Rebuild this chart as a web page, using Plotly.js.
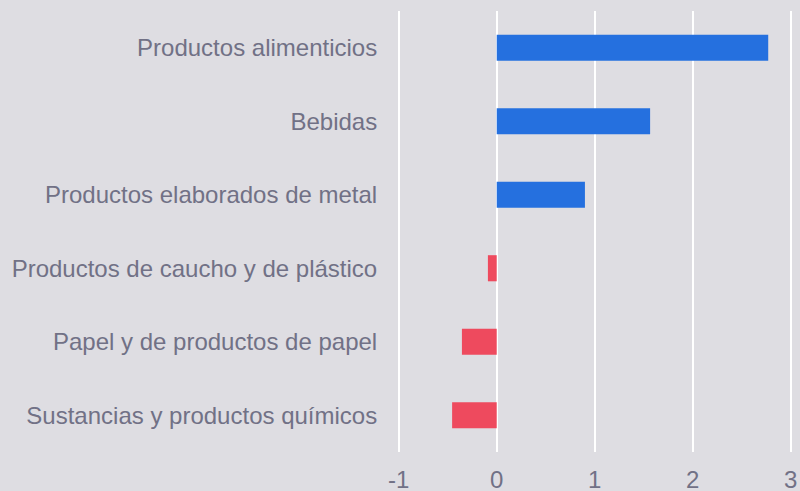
<!DOCTYPE html>
<html>
<head>
<meta charset="utf-8">
<script src="https://cdn.plot.ly/plotly-3.0.1.min.js"></script>
<style>html,body{margin:0;padding:0;background:#dedde2;}#chart{width:800px;height:491px;}</style>
</head>
<body>
<div id="chart"></div>
<script>
const categories = [
  "Sustancias y productos químicos",
  "Papel y de productos de papel",
  "Productos de caucho y de plástico",
  "Productos elaborados de metal",
  "Bebidas",
  "Productos alimenticios"
];
const values = [-0.455, -0.355, -0.09, 0.90, 1.565, 2.77];
const xTicks = [-1, 0, 1, 2, 3];

const colors = values.map(v => v < 0 ? "#ee4a5e" : "#2570df");

const trace = {
  type: "bar",
  orientation: "h",
  y: categories,
  x: values,
  marker: {color: colors, line: {width: 0}},
  hoverinfo: "none"
};

const layout = {
  width: 800,
  height: 491,
  paper_bgcolor: "#dedde2",
  plot_bgcolor: "#dedde2",
  margin: {l: 396, r: 6, t: 11, b: 39},
  bargap: 0.645,
  showlegend: false,
  font: {family: "Liberation Sans, Arial, sans-serif", size: 24, color: "#717186"},
  xaxis: {
    range: [-1.0276, 3.033],
    tickvals: xTicks,
    ticktext: xTicks.map(String),
    showgrid: true,
    gridcolor: "#ffffff",
    gridwidth: 2,
    zeroline: false,
    showline: false,
    ticks: "outside",
    ticklen: 6,
    tickcolor: "rgba(0,0,0,0)",
    tickfont: {size: 24, color: "#717186"},
    fixedrange: true
  },
  yaxis: {
    range: [-0.5, 5.5],
    showgrid: false,
    zeroline: false,
    showline: false,
    ticks: "outside",
    ticklen: 13,
    tickcolor: "rgba(0,0,0,0)",
    tickfont: {size: 24, color: "#717186"},
    fixedrange: true
  }
};

Plotly.newPlot("chart", [trace], layout, {displayModeBar: false, staticPlot: true});
</script>
</body>
</html>
